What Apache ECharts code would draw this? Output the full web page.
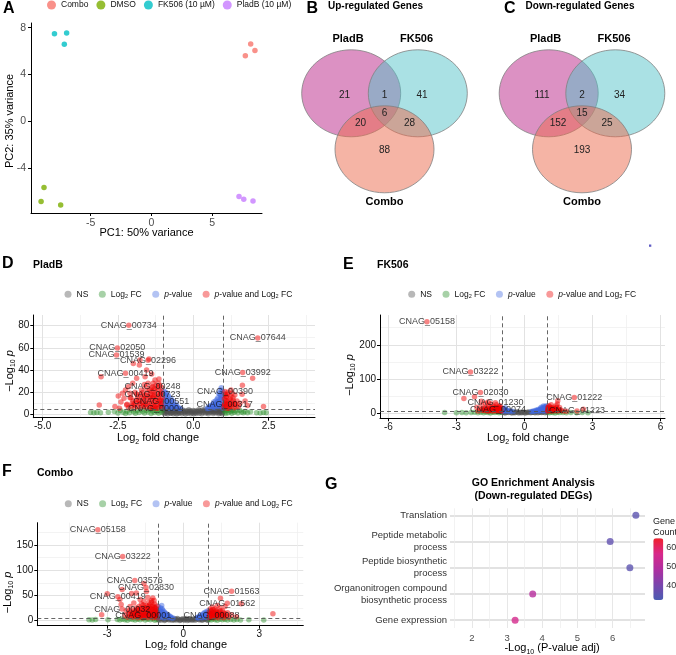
<!DOCTYPE html>
<html>
<head>
<meta charset="utf-8">
<script src="https://cdn.jsdelivr.net/npm/echarts@6/dist/echarts.min.js"></script>
<style>
html, body { margin: 0; padding: 0; background: #fff; }
#chart { width: 676px; height: 655px; }
</style>
</head>
<body>
<div id="chart"></div>
<script>
// ---------- A: PCA ----------
var pcaGroups = ['Combo', 'DMSO', 'FK506 (10 µM)', 'PladB (10 µM)'];
var pcaColors = ['#F8766D', '#7CAE00', '#00BFC4', '#C77CFF'];
var pcaCombo = [[8.17, 6.61], [8.52, 6.04], [7.73, 5.59]];
var pcaDMSO = [[-8.83, -5.67], [-9.07, -6.87], [-7.46, -7.17]];
var pcaFK506 = [[-7.97, 7.49], [-6.97, 7.55], [-7.16, 6.58]];
var pcaPladB = [[7.21, -6.44], [7.6, -6.67], [8.36, -6.83]];
var pcaXTicks = [-5, 0, 5];
var pcaYTicks = [-4, 0, 4, 8];

// ---------- B / C: Venn ----------
var vennSets = ['PladB', 'FK506', 'Combo'];
// PladB only, PladB&FK506, FK506 only, all, PladB&Combo, FK506&Combo, Combo only
var upCounts = [21, 1, 41, 6, 20, 28, 88];
var downCounts = [111, 2, 34, 15, 152, 25, 193];

// ---------- D / E / F: volcano ----------
var volcanoCats = ['NS', 'Log2 FC', 'p-value', 'p-value and Log2 FC'];
var fcCut = 1;
var pCut = 5;

var pladNS = [[-0.97,4.6],[-0.95,3.2],[-0.98,1.8],[-0.96,0.6],[-0.9,4.2],[-0.88,2.6],[-0.9,1.2],[-0.85,0.3],[-0.8,4.5],[-0.78,3.4],[-0.8,2.0],[-0.76,0.9],[-0.7,4.4],[-0.68,3.0],[-0.7,1.6],[-0.66,0.4],[-0.6,4.1],[-0.58,2.6],[-0.6,1.2],[-0.55,0.2],[-0.5,3.8],[-0.48,2.4],[-0.5,1.0],[-0.42,3.4],[-0.4,1.9],[-0.38,0.6],[-0.32,2.9],[-0.3,1.4],[-0.26,0.3],[-0.22,3.3],[-0.2,2.2],[-0.18,1.0],[-0.12,1.8],[-0.1,3.1],[-0.08,0.5],[-0.03,1.5],[0.0,3.5],[0.02,0.4],[0.06,1.7],[0.1,0.8],[0.12,3.0],[0.15,2.0],[0.2,1.0],[0.22,3.4],[0.24,2.5],[0.28,0.5],[0.32,1.7],[0.36,2.9],[0.4,1.1],[0.44,3.3],[0.48,2.2],[0.5,0.5],[0.54,3.7],[0.57,1.6],[0.62,4.0],[0.64,2.6],[0.66,0.8],[0.7,4.3],[0.72,3.0],[0.74,1.5],[0.8,4.5],[0.82,3.3],[0.8,2.0],[0.84,0.6],[0.9,4.3],[0.88,2.8],[0.92,1.4],[0.97,4.6],[0.95,3.1],[0.98,1.9],[0.96,0.5],
  [-0.93,3.9],[-0.84,2.3],[-0.73,1.2],[-0.64,3.5],[-0.52,2.9],[-0.45,1.5],[-0.35,3.9],[-0.27,2.5],[-0.15,4.0],[-0.05,2.6],[0.05,3.0],[0.18,4.1],[0.3,3.8],[0.38,4.3],[0.46,1.6],[0.58,2.7],[0.68,1.9],[0.77,3.8],[0.86,1.3],[0.93,3.5],[-0.62,4.7],[0.6,4.8],[-0.86,4.7],[0.86,4.8]];
var pladFC = [[-3.41,1.6],[-3.3,1.4],[-3.2,1.7],[-3.08,1.3],[-2.82,1.8],[-2.62,2.6],[-2.5,1.2],[-2.42,3.4],[-2.33,1.9],[-2.25,0.8],[-2.2,2.8],[-2.12,1.5],[-2.05,3.9],[-1.98,2.2],[-1.92,0.9],[-1.86,3.1],[-1.8,1.7],[-1.74,4.2],[-1.68,2.5],[-1.62,1.1],[-1.56,3.5],[-1.5,2.0],[-1.44,4.4],[-1.4,0.7],[-1.35,2.9],[-1.3,1.6],[-1.25,4.0],[-1.2,2.4],[-1.15,1.0],[-1.1,3.4],[-1.05,1.9],[-1.02,4.5],[1.02,4.3],[1.05,2.1],[1.08,0.8],[1.12,3.4],[1.16,1.5],[1.2,4.1],[1.24,2.6],[1.28,0.9],[1.32,3.5],[1.36,1.8],[1.42,2.9],[1.48,1.2],[1.54,3.6],[1.6,2.1],[1.66,1.4],[1.72,2.6],[1.8,1.5],[1.9,2.3],[2.1,1.5],[2.22,1.2],[2.33,1.6],[2.42,1.3]];
var pladP = [[-0.98,21],[-0.95,17],[-0.97,13],[-0.96,9],[-0.98,6],[-0.9,19],[-0.88,14],[-0.9,10],[-0.87,6.5],[-0.85,11],[-0.82,16],[-0.8,12],[-0.8,8],[-0.78,5.5],[-0.74,14],[-0.72,10],[-0.7,7],[-0.68,5.5],[-0.66,11.5],[-0.63,8],[-0.6,6],[-0.56,9],[-0.52,6.5],[-0.47,5.5],[-0.42,5.2],[0.98,20],[0.95,16],[0.97,12],[0.96,8],[0.98,5.5],[0.93,24],[0.9,22],[0.88,18],[0.9,14],[0.87,10],[0.85,6.5],[0.84,19],[0.82,15],[0.8,11],[0.78,8],[0.76,6],[0.74,12],[0.72,9],[0.7,6],[0.66,9.5],[0.62,7],[0.58,8],[0.55,6],[0.5,5.5],[0.46,5.2],
  [-0.99,18],[-0.97,10.5],[-0.94,7.5],[-0.93,15],[-0.91,12],[-0.86,8.5],[-0.84,17.5],[-0.83,6],[-0.77,10],[-0.75,7],[-0.71,12.5],[-0.64,6.8],[-0.59,7.5],[-0.54,5.8],[-0.92,20],[0.99,17],[0.97,10],[0.94,7],[0.93,13.5],[0.91,17],[0.86,12],[0.83,8.5],[0.79,13.5],[0.77,10],[0.71,7.5],[0.68,11],[0.64,8.5],[0.6,6],[0.52,7],[0.95,21]];
var pladBoth = [[-1.02,6],[-1.05,10],[-1.03,15],[-1.06,20],[-1.04,24],[-1.1,7.5],[-1.12,12.5],[-1.1,17.5],[-1.14,22],[-1.15,28],[-1.18,5.5],[-1.2,9],[-1.22,14],[-1.2,19],[-1.24,26],[-1.27,31],[-1.28,7],[-1.3,11],[-1.32,16],[-1.3,21],[-1.36,5.8],[-1.38,9.5],[-1.4,13],[-1.42,18],[-1.4,24],[-1.38,36.4],[-1.46,7],[-1.48,11],[-1.5,15],[-1.52,20],[-1.5,28],[-1.47,50],[-1.55,40],[-1.56,6],[-1.58,9],[-1.6,13],[-1.62,17],[-1.6,34],[-1.66,7.5],[-1.68,11],[-1.7,15.5],[-1.72,22],[-1.76,6],[-1.78,9.5],[-1.79,44.5],[-1.77,49],[-1.82,13],[-1.86,7],[-1.88,18],[-1.88,32.5],[-1.92,10],[-1.95,6],[-1.99,46],[-2.0,12],[-2.01,28],[-2.05,7.5],[-2.1,15],[-2.1,19],[-2.15,6],[-2.15,25],[-2.2,9],[-2.21,8.4],[-2.25,22],[-2.3,14.4],[-2.35,19],[-2.4,11],[-2.45,5.5],[-2.49,16.6],[-2.6,7],[-3.06,34],[-3.12,8.4],
  [-1.08,8.5],[-1.07,13],[-1.09,18.5],[-1.11,26],[-1.16,10.5],[-1.17,15.5],[-1.19,24],[-1.25,6.5],[-1.26,12],[-1.27,17.5],[-1.29,23],[-1.34,8.5],[-1.35,14.5],[-1.37,20.5],[-1.43,6],[-1.44,15.5],[-1.45,22],[-1.53,10],[-1.55,17],[-1.57,24],[-1.63,8],[-1.65,14],[-1.67,20],[-1.73,10],[-1.75,18],[-1.8,12],[-1.84,16],[-1.9,13],[-1.93,20],[-1.97,8.5],[-2.03,10],[-2.07,15],[-1.14,32],[-1.33,28],[-1.62,27],
  [1.02,6],[1.05,10],[1.03,14],[1.06,18],[1.1,7.5],[1.12,12],[1.1,16],[1.15,20],[1.18,5.5],[1.2,9],[1.22,14],[1.25,22],[1.26,7],[1.28,11],[1.32,15],[1.35,6],[1.38,17.5],[1.4,9],[1.45,12],[1.5,7],[1.55,10],[1.62,18],[1.63,26.2],[1.72,12],[1.8,8],[1.97,32.5],[2.33,7],
  [1.04,8],[1.07,12.5],[1.08,16],[1.13,9.5],[1.14,18],[1.17,12],[1.21,7],[1.24,16],[1.3,9],[1.33,12.5],[1.37,10],[1.42,6.5],[1.12,5.5],[1.28,19]];
var pladLabels = [['CNAG_00734',-2.14,80.4],['CNAG_07644',2.14,69],['CNAG_02050',-2.52,60],['CNAG_01539',-2.55,53.6],['CNAG_02296',-1.5,48.8],['CNAG_00419',-2.25,37],['CNAG_03992',1.64,37.7],['CNAG_00248',-1.35,25],['CNAG_00390',1.05,20.5],['CNAG_00723',-1.35,17.5],['CNAG_00551',-1.06,12],['CNAG_00317',1.04,9],['CNAG_00004',-1.24,5.4]];

var fkNS = [[-0.98,2.0],[-0.92,4.0],[-0.85,1.0],[-0.78,3.0],[-0.7,2.0],[-0.62,4.2],[-0.55,1.2],[-0.48,3.2],[-0.4,2.2],[-0.32,4.3],[-0.25,1.1],[-0.18,3.0],[-0.1,2.0],[-0.02,3.6],[0.05,1.0],[0.12,2.8],[0.2,4.1],[0.28,1.6],[0.36,3.4],[0.44,2.4],[0.52,4.4],[0.6,1.3],[0.68,3.2],[0.76,2.1],[0.84,4.3],[0.92,1.5],[0.98,3.0],
  [-0.88,2.5],[-0.74,3.8],[-0.58,2.6],[-0.44,1.4],[-0.28,3.2],[-0.14,1.6],[0.0,1.4],[0.16,2.2],[0.32,2.9],[0.48,1.6],[0.64,4.0],[0.8,3.0],[0.95,4.2]];
var fkFC = [[-3.52,2],[-3.0,1.5],[-2.76,2.5],[-2.57,1.8],[-2.35,2.2],[-2.2,3],[-2.05,1.4],[-1.92,2.8],[-1.8,1.7],[-1.7,3.5],[-1.6,2.2],[-1.5,1],[-1.4,3.2],[-1.3,2],[-1.2,4],[-1.12,1.3],[-1.05,2.7],[1.03,3],[1.1,1.5],[1.18,3.8],[1.25,2.2],[1.35,1.2],[1.45,3],[1.55,2],[1.7,2.6],[1.85,1.6],[2.05,2.2],[2.3,1.7],[2.55,2.1],[2.8,1.5]];
var fkP = [[-0.98,14],[-0.95,9],[-0.97,6],[-0.9,12],[-0.88,7],[-0.85,16],[-0.8,10],[-0.78,6],[-0.7,8],[-0.65,5.5],[-0.6,7],[-0.5,5.5],[0.98,22],[0.95,17],[0.97,12],[0.96,7],[0.9,20],[0.88,15],[0.9,10],[0.86,6],[0.84,21],[0.8,17],[0.78,12],[0.76,8],[0.74,18],[0.7,14],[0.68,10],[0.66,6],[0.6,11],[0.57,7.5],[0.5,9],[0.46,6],[0.4,7],[0.35,5.5],[0.3,5.2],
  [0.92,18],[0.93,9],[0.85,13],[0.8,8],[0.72,11],[0.62,9],[0.55,8],[-0.93,10],[-0.82,8]];
var fkBoth = [[-1.03,6],[-1.06,11],[-1.04,16],[-1.08,22],[-1.12,8],[-1.15,14],[-1.13,19],[-1.2,6],[-1.22,11],[-1.25,17],[-1.24,25],[-1.3,8],[-1.33,13],[-1.35,20],[-1.4,6],[-1.42,10],[-1.45,16],[-1.48,28],[-1.52,8],[-1.55,13],[-1.58,22],[-1.6,33],[-1.62,6],[-1.66,11],[-1.7,17],[-1.72,29],[-1.78,8],[-1.82,14],[-1.88,22],[-1.9,35],[-1.95,10],[-2.05,7],[-2.1,18],[-2.2,48],[-2.67,43.5],
  [-1.05,8.5],[-1.1,13],[-1.14,17],[-1.18,10],[-1.23,14],[-1.28,9],[-1.32,17],[-1.37,11],[-1.43,14],[-1.5,10],[-1.56,8],[-1.6,15],[-1.68,9],[-1.75,12],[-1.85,9],
  [1.02,6],[1.05,11],[1.03,17],[1.08,22],[1.12,8],[1.15,14],[1.18,25],[1.22,6],[1.25,11],[1.28,18],[1.32,8],[1.36,14],[1.4,22],[1.45,7],[1.45,27],[1.47,36.7],[1.5,12],[1.55,17],[1.6,9],[1.7,7],[1.85,6],[2.6,11.6],
  [1.04,9],[1.07,14],[1.1,19],[1.17,10],[1.2,16],[1.27,13],[1.34,10],[1.42,16],[1.52,9]];
var fkLabels = [['CNAG_05158',-4.3,267.6],['CNAG_03222',-2.38,120.8],['CNAG_02030',-1.94,61],['CNAG_01230',-1.28,31],['CNAG_00074',-1.17,11.6],['CNAG_01222',2.2,46.4],['CNAG_01223',2.32,6.8]];

var comboNS = [[-0.98,2.5],[-0.92,4.2],[-0.86,1.2],[-0.8,3.4],[-0.74,0.6],[-0.68,2.8],[-0.62,4.4],[-0.56,1.6],[-0.5,3.2],[-0.44,0.8],[-0.38,2.4],[-0.32,4.0],[-0.26,1.3],[-0.2,3.0],[-0.14,0.5],[-0.08,2.2],[-0.02,3.8],[0.04,1.0],[0.1,2.9],[0.16,0.6],[0.22,2.4],[0.28,4.1],[0.34,1.4],[0.4,3.3],[0.46,0.7],[0.52,2.6],[0.58,4.3],[0.64,1.5],[0.7,3.5],[0.76,0.9],[0.82,2.7],[0.88,4.4],[0.94,1.7],[0.98,3.6],
  [-0.95,1.0],[-0.83,4.6],[-0.71,1.9],[-0.59,3.0],[-0.47,4.5],[-0.35,1.2],[-0.23,4.3],[-0.11,1.5],[0.01,2.6],[0.13,4.2],[0.25,1.2],[0.37,2.0],[0.49,4.2],[0.61,3.0],[0.73,2.0],[0.85,3.3],[0.96,1.1]];
var comboFC = [[-3.72,2],[-3.59,1.5],[-3.46,2.2],[-2.97,1.8],[-2.6,2.5],[-2.5,1.2],[-2.4,3],[-2.3,2],[-2.2,1],[-2.1,3.5],[-2.0,2.2],[-1.9,1.4],[-1.8,3.1],[-1.7,2],[-1.6,4],[-1.5,1.2],[-1.4,2.8],[-1.3,1.8],[-1.2,3.6],[-1.12,1],[-1.05,2.5],[1.03,2.5],[1.1,1.2],[1.18,3.5],[1.26,2],[1.35,1],[1.45,3],[1.55,1.8],[1.65,2.6],[1.75,1.3],[1.88,2.2],[2.0,1.6],[2.12,2.4],[2.26,1.5],[2.59,1.8],[3.18,1.6]];
var comboP = [[-0.98,28],[-0.96,22],[-0.97,16],[-0.95,10],[-0.98,6],[-0.9,25],[-0.88,19],[-0.9,13],[-0.87,7],[-0.85,30],[-0.82,21],[-0.8,15],[-0.8,9],[-0.76,5.5],[-0.74,17],[-0.72,11],[-0.7,7],[-0.65,13],[-0.62,8],[-0.58,10],[-0.55,6],[-0.5,7.5],[-0.45,5.5],[-0.4,5.2],[0.98,20],[0.95,15],[0.97,10],[0.96,6],[0.9,18],[0.88,12],[0.86,7],[0.8,14],[0.78,9],[0.74,6],[0.7,10],[0.66,7],[0.6,5.5],[0.55,6],
  [-0.99,18],[-0.97,12],[-0.94,8],[-0.93,20],[-0.92,15],[-0.86,10],[-0.84,24],[-0.84,17],[-0.78,12],[-0.77,19],[-0.69,9],[-0.67,14],[-0.6,11],[-0.52,9],[0.99,16],[0.97,12],[0.93,8],[0.92,15],[0.85,10],[0.83,16],[0.76,11],[0.72,8],[0.68,12],[0.63,8.5],[0.58,7]];
var comboBoth = [[-1.02,6],[-1.05,11],[-1.03,17],[-1.06,23],[-1.04,29],[-1.1,8],[-1.12,14],[-1.1,20],[-1.14,26],[-1.13,33],[-1.15,40],[-1.2,6],[-1.22,10],[-1.2,16],[-1.24,22],[-1.22,28],[-1.26,36],[-1.2,45],[-1.3,8],[-1.32,13],[-1.3,19],[-1.34,25],[-1.33,31],[-1.4,6],[-1.42,11],[-1.4,17],[-1.44,23],[-1.45,30],[-1.4,46],[-1.45,58],[-1.5,8],[-1.52,14],[-1.5,20],[-1.55,27],[-1.55,38],[-1.55,74],[-1.6,6],[-1.62,11],[-1.6,17],[-1.65,24],[-1.65,33],[-1.7,8],[-1.72,14],[-1.75,20],[-1.75,28],[-1.7,42],[-1.8,6],[-1.82,11],[-1.85,17],[-1.85,25],[-1.85,55],[-1.9,9],[-1.92,14],[-1.95,21],[-1.95,35],[-2.0,7],[-2.02,12],[-2.05,18],[-2.04,54],[-2.1,9],[-2.1,28],[-2.15,14],[-2.2,7],[-2.25,20],[-2.3,11],[-2.41,62],[-2.45,32],[-2.5,42],[-3.0,53.6],[-3.22,12],
  [-1.07,9],[-1.08,14],[-1.09,19.5],[-1.11,25],[-1.16,11],[-1.17,17],[-1.18,22],[-1.19,30],[-1.25,8],[-1.27,13],[-1.28,19],[-1.29,25],[-1.36,10],[-1.37,16],[-1.38,21],[-1.39,28],[-1.46,11],[-1.47,16],[-1.48,25],[-1.56,10],[-1.57,16],[-1.58,22],[-1.58,31],[-1.67,11],[-1.68,17],[-1.7,23],[-1.77,10],[-1.79,16],[-1.8,22],[-1.87,13],[-1.88,20],[-1.97,10],[-1.98,16],[-2.07,13],[-2.12,20],[-1.25,40],[-1.35,36],
  [1.02,6],[1.05,11],[1.03,17],[1.06,23],[1.1,8],[1.12,14],[1.1,20],[1.15,27],[1.2,6],[1.22,11],[1.2,17],[1.25,23],[1.3,8],[1.32,14],[1.3,20],[1.35,30],[1.38,6],[1.4,11],[1.42,17],[1.45,25],[1.47,44.3],[1.5,8],[1.52,14],[1.55,20],[1.6,6],[1.62,11],[1.65,28],[1.7,9],[1.75,16],[1.8,7],[1.9,12],[2.1,8],[2.29,33.7],[3.54,13.9],
  [1.04,8.5],[1.07,14],[1.08,19],[1.13,11],[1.17,16],[1.18,22],[1.24,9],[1.27,14],[1.28,19],[1.35,10],[1.36,16],[1.43,13],[1.46,20],[1.55,11],[1.58,17],[1.66,14]];
var comboLabels = [['CNAG_05158',-3.37,180.6],['CNAG_03222',-2.39,127.6],['CNAG_03576',-1.91,80],['CNAG_02830',-1.47,66.1],['CNAG_00419',-2.58,47.6],['CNAG_00032',-2.41,23],['CNAG_00001',-1.58,11],['CNAG_01563',1.91,58.2],['CNAG_01562',1.74,34.4],['CNAG_00088',1.12,11]];

// ---------- G: GO enrichment ----------
var goTerms = ['Translation', 'Peptide metabolic\nprocess', 'Peptide biosynthetic\nprocess', 'Organonitrogen compound\nbiosynthetic process', 'Gene expression'];
var goLogP = [6.66, 5.93, 6.49, 3.73, 3.23];
var goCount = [35, 36, 35, 50, 56];
var goXTicks = [2, 3, 4, 5, 6];
var goXMinor = [1.5, 2.5, 3.5, 4.5, 5.5, 6.5];
var countTicks = [40, 50, 60];
var countRange = [32, 65];

var FONT = '"Liberation Sans", Arial, sans-serif';
var grid = [], xAxis = [], yAxis = [], series = [], legend = [], graphic = [];

function addGrid(l, t, w, h) {
  grid.push({left: l, top: t, width: w, height: h, containLabel: false, outerBoundsMode: 'none'});
  return grid.length - 1;
}

function axis(list, g, pos, range, ticks, o) {
  list.push({
    type: 'value', gridIndex: g, position: pos, min: range[0], max: range[1],
    axisLine: {show: !!o.line, onZero: false, lineStyle: {color: '#000', width: 1}},
    axisTick: {show: !!o.line, customValues: ticks, length: 3, lineStyle: {color: '#000'}},
    axisLabel: {show: !!o.labels, customValues: ticks, formatter: o.fmt, fontSize: o.fs || 9.5,
      color: o.color || '#111', fontFamily: FONT, margin: o.margin || 4, lineHeight: o.lh},
    splitLine: {show: !!o.split, lineStyle: o.split || {}}
  });
  return list.length - 1;
}

function txt(x, y, text, size, opt) {
  opt = opt || {};
  var st = {text: text, fontSize: size, fontFamily: FONT, fontWeight: opt.bold ? 'bold' : 'normal',
    fill: opt.color || '#000', align: opt.align || 'center', verticalAlign: 'middle',
    textAlign: opt.align || 'center', textVerticalAlign: 'middle'};
  if (opt.rich) st.rich = opt.rich;
  graphic.push({type: 'text', x: x, y: y, rotation: opt.rot || 0, z: 10, silent: true, style: st});
}

var subRich = {
  s: {fontSize: 7, fontFamily: FONT, verticalAlign: 'bottom', lineHeight: 14},
  i: {fontSize: 11, fontFamily: FONT, fontStyle: 'italic'}
};

// ---------- panel A ----------
var gA = addGrid(31, 23, 231, 190);
var axA = axis(xAxis, gA, 'bottom', [-9.9, 9.1], pcaXTicks, {line: true, labels: true, fs: 10.5, color: '#4d4d4d', margin: 5});
var ayA = axis(yAxis, gA, 'left', [-7.85, 8.4], pcaYTicks, {line: true, labels: true, fs: 10.5, color: '#4d4d4d', margin: 5});
[pcaCombo, pcaDMSO, pcaFK506, pcaPladB].forEach(function (d, k) {
  series.push({type: 'scatter', name: pcaGroups[k], xAxisIndex: axA, yAxisIndex: ayA, data: d,
    symbolSize: 5.5, itemStyle: {color: pcaColors[k]}, silent: true});
});
legend.push({data: pcaGroups, left: 47, top: 0.5, itemWidth: 9, itemHeight: 9, itemGap: 8, icon: 'circle',
  padding: 0, selectedMode: false, textStyle: {fontSize: 8.5, color: '#111', fontFamily: FONT}});
txt(3, 8.5, 'A', 16, {bold: true, align: 'left'});
txt(146.5, 233, 'PC1: 50% variance', 11);
txt(10, 121, 'PC2: 35% variance', 11, {rot: Math.PI / 2});

// ---------- panels B, C ----------
function venn(cx, counts, title, titleX, letter) {
  var top = 93.3, bot = 149.3, dx = 33.3;
  var fills = ['rgba(185,35,135,0.5)', 'rgba(85,195,201,0.5)', 'rgba(235,105,75,0.5)'];
  var centers = [[cx - dx, top], [cx + dx, top], [cx, bot]];
  centers.forEach(function (c, k) {
    graphic.push({type: 'ellipse', silent: true, z: 1,
      shape: {cx: c[0], cy: c[1], rx: 49.5, ry: 43.5},
      style: {fill: fills[k], stroke: '#808080', lineWidth: 0.8}});
  });
  var spots = [[-40, 95], [0, 95], [37.5, 95], [0, 113], [-24, 123.3], [25, 123.3], [0, 150]];
  counts.forEach(function (v, k) {
    txt(cx + spots[k][0], spots[k][1], String(v), 10, {color: '#222'});
  });
  txt(cx - 36.5, 39.3, vennSets[0], 11, {bold: true});
  txt(cx + 32, 39.3, vennSets[1], 11, {bold: true});
  txt(cx, 202, vennSets[2], 11, {bold: true});
  txt(titleX, 6.5, title, 10, {bold: true});
  txt(cx - 78, 8.5, letter, 16, {bold: true, align: 'left'});
}
venn(384.5, upCounts, 'Up-regulated Genes', 375.5, 'B');
venn(582, downCounts, 'Down-regulated Genes', 580, 'C');
graphic.push({type: 'rect', silent: true, shape: {x: 649, y: 244.5, width: 2.3, height: 2.3}, style: {fill: '#5f5cc4'}});

// ---------- volcano panels ----------
var volColors = ['rgba(77,77,77,0.62)', 'rgba(34,139,34,0.55)', 'rgba(65,105,225,0.62)', 'rgba(238,0,0,0.6)'];
var volLegendColors = ['rgba(77,77,77,0.5)', 'rgba(34,139,34,0.5)', 'rgba(65,105,225,0.5)', 'rgba(238,0,0,0.5)'];
var majorGrid = {color: '#e2e2e2', width: 1};
var minorGrid = {color: '#eeeeee', width: 0.7};

function volcano(box, xr, yr, xMaj, xMin, yMaj, yMin, xFmt, groups, labels) {
  var g = addGrid(box[0], box[1], box[2], box[3]);
  var xi = axis(xAxis, g, 'bottom', xr, xMaj, {line: true, labels: true, fmt: xFmt, split: majorGrid, fs: 10});
  axis(xAxis, g, 'top', xr, xMin, {split: minorGrid});
  var yi = axis(yAxis, g, 'left', yr, yMaj, {line: true, labels: true, split: majorGrid, fs: 10});
  axis(yAxis, g, 'right', yr, yMin, {split: minorGrid});
  volcanoCats.forEach(function (c, k) {
    series.push({type: 'scatter', name: c, xAxisIndex: xi, yAxisIndex: yi, data: groups[k],
      symbolSize: 5.5, itemStyle: {color: volColors[k]}, silent: true, z: 2});
  });
  series.push({type: 'line', xAxisIndex: xi, yAxisIndex: yi, data: [], z: 3, silent: true,
    markLine: {silent: true, symbol: 'none', label: {show: false},
      lineStyle: {type: [4, 3], color: '#555', width: 0.9},
      data: [{xAxis: -fcCut}, {xAxis: fcCut}, {yAxis: pCut}]}});
  series.push({type: 'scatter', name: volcanoCats[3], xAxisIndex: xi, yAxisIndex: yi, symbolSize: 5.5, z: 4,
    itemStyle: {color: volColors[3]}, silent: true,
    data: labels.map(function (l) { return {name: l[0], value: [l[1], l[2]]}; }),
    label: {show: true, formatter: '{b}', position: 'inside', fontSize: 9, color: '#111', fontFamily: FONT}});
}

function volLegend(left, top) {
  legend.push({
    data: volcanoCats.map(function (c, k) { return {name: c, itemStyle: {color: volLegendColors[k]}}; }),
    left: left, top: top, itemWidth: 7, itemHeight: 7, itemGap: 10.5, icon: 'circle',
    padding: 0, selectedMode: false,
    formatter: function (n) {
      if (n === 'Log2 FC') return 'Log{s|2} FC';
      if (n === 'p-value') return '{i|p}-value';
      if (n === 'p-value and Log2 FC') return '{i|p}-value and Log{s|2} FC';
      return n;
    },
    textStyle: {fontSize: 8.5, color: '#111', fontFamily: FONT, lineHeight: 11,
      rich: {s: {fontSize: 5.5, fontFamily: FONT, verticalAlign: 'bottom', lineHeight: 11},
             i: {fontSize: 8.5, fontFamily: FONT, fontStyle: 'italic'}}}});
}

var fmt1 = function (v) { return v.toFixed(1); };
var fmt0 = function (v) { return String(v); };

volcano([33.3, 315, 281.7, 102.7], [-5.31, 4.04], [-3.07, 89.7], [-5, -2.5, 0, 2.5], [-3.75, -1.25, 1.25, 3.75],
  [0, 20, 40, 60, 80], [10, 30, 50, 70], fmt1, [pladNS, pladFC, pladP, pladBoth], pladLabels);
volcano([380, 315, 285, 103.3], [-6.37, 6.2], [-14.6, 287], [-6, -3, 0, 3, 6], [-4.5, -1.5, 1.5, 4.5],
  [0, 100, 200], [50, 150, 250], fmt0, [fkNS, fkFC, fkP, fkBoth], fkLabels);
volcano([37.3, 522.7, 266, 103], [-5.76, 4.74], [-9.9, 194.4], [-3, 0, 3], [-4.5, -1.5, 1.5, 4.5],
  [0, 50, 100, 150], [25, 75, 125, 175], fmt0, [comboNS, comboFC, comboP, comboBoth], comboLabels);
volLegend(64.5, 288.8);
volLegend(408.2, 288.8);
volLegend(64.8, 498.2);

txt(2, 264, 'D', 16, {bold: true, align: 'left'});
txt(33, 265, 'PladB', 10.5, {bold: true, align: 'left'});
txt(343, 265, 'E', 16, {bold: true, align: 'left'});
txt(377, 265, 'FK506', 10.5, {bold: true, align: 'left'});
txt(2, 471.7, 'F', 16, {bold: true, align: 'left'});
txt(37, 472.7, 'Combo', 10.5, {bold: true, align: 'left'});

txt(158, 438.3, 'Log{s|2} fold change', 11, {rich: subRich});
txt(528, 438.3, 'Log{s|2} fold change', 11, {rich: subRich});
txt(186, 645, 'Log{s|2} fold change', 11, {rich: subRich});
txt(10, 371, '\u2212Log{s|10} {i|p}', 11, {rich: subRich, rot: Math.PI / 2});
txt(350, 375, '\u2212Log{s|10} {i|p}', 11, {rich: subRich, rot: Math.PI / 2});
txt(8, 592.5, '\u2212Log{s|10} {i|p}', 11, {rich: subRich, rot: Math.PI / 2});

// ---------- panel G ----------
var gG = addGrid(450, 508.3, 195, 119.7);
var axG = axis(xAxis, gG, 'bottom', [1.38, 6.92], goXTicks, {labels: true, fs: 9.5, color: '#4d4d4d', margin: 5,
  split: {color: '#e4e4e4', width: 0.9}});
axis(xAxis, gG, 'top', [1.38, 6.92], goXMinor, {split: {color: '#ececec', width: 0.7}});
var ayG = axis(yAxis, gG, 'left', [0.7, 5.27], [1, 2, 3, 4, 5], {labels: true, fs: 9.5, color: '#333', margin: 3, lh: 12,
  fmt: function (v) { return goTerms[goTerms.length - v]; }, split: {color: '#e2e2e2', width: 1.8}});
var goSeries = series.length;
series.push({type: 'scatter', name: 'GO', xAxisIndex: axG, yAxisIndex: ayG, symbolSize: 7, silent: true,
  data: goTerms.map(function (t, i) { return [goLogP[i], goTerms.length - i, goCount[i]]; })});

// colour bar ticks through a thin hidden grid
var gC = addGrid(663.3, 538.3, 1, 61.7);
axis(xAxis, gC, 'bottom', [0, 1], [], {});
axis(yAxis, gC, 'right', countRange, countTicks, {labels: true, fs: 9, color: '#333', margin: 2});

txt(325, 484.3, 'G', 16, {bold: true, align: 'left'});
txt(533.3, 482.7, 'GO Enrichment Analysis', 10.5, {bold: true});
txt(533.3, 496, '(Down-regulated DEGs)', 10.5, {bold: true});
txt(552, 648.3, '-Log{s|10} (P-value adj)', 11, {rich: subRich});
txt(653, 522, 'Gene', 9, {align: 'left', color: '#222'});
txt(653, 532.5, 'Count', 9, {align: 'left', color: '#222'});

var chart = echarts.init(document.getElementById('chart'), null, {renderer: 'canvas'});
chart.setOption({
  animation: false,
  backgroundColor: '#fff',
  grid: grid,
  xAxis: xAxis,
  yAxis: yAxis,
  legend: legend,
  visualMap: [{
    type: 'continuous', seriesIndex: goSeries, dimension: 2, min: countRange[0], max: countRange[1],
    left: 653.3, top: 538.3, itemWidth: 10, itemHeight: 61.7, padding: 0, calculable: false,
    inRange: {color: ['#4b5cb2', '#7b45ad', '#b02ea0', '#d8288a', '#f0202a']}
  }],
  series: series,
  graphic: graphic
});
</script>
</body>
</html>
